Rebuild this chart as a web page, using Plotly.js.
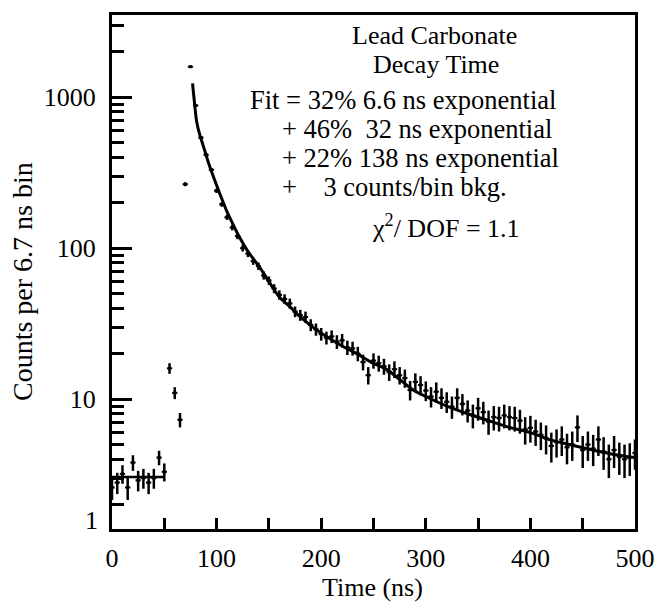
<!DOCTYPE html>
<html>
<head>
<meta charset="utf-8">
<script src="https://cdn.plot.ly/plotly-3.0.1.min.js"></script>
<style>html,body{margin:0;padding:0;background:#fff;}#chart{width:658px;height:602px;}</style>
</head>
<body>
<div id="chart"></div>
<script>
// ---- data ----
const timeNs = [0,5,10,15,20,25,30,35,40,45,50,55,60,65,70,75,80,85,90,95,100,105,110,115,120,125,130,135,140,145,150,155,160,165,170,175,180,185,190,195,200,205,210,215,220,225,230,235,240,245,250,255,260,265,270,275,280,285,290,295,300,305,310,315,320,325,330,335,340,345,350,355,360,365,370,375,380,385,390,395,400,405,410,415,420,425,430,435,440,445,450,455,460,465,470,475,480,485,490,495,500];
const counts = [2.6,2.8,3.2,2.6,3.8,2.9,3.0,2.8,3.0,4.1,3.3,16,11,7.3,265,1590,880,540,415,330,240,195,160,137,120,100,92,82,76,66,61,54,49,46,43,38,36,35,31,29,27,25.5,26,24,24.5,22,21.7,20,17.6,14.4,18,17.3,16.5,15.1,15.8,14.4,13.8,11.5,13,12.4,11.4,10.4,11.2,10.2,9.6,8.9,10.2,9.3,8.4,7.8,8.7,8.2,7.1,7.6,7.5,7.8,7.6,7.5,7.2,6.3,6.45,6.1,5.8,5.5,4.9,5.2,5.4,4.8,5.0,6.5,4.6,5.0,4.7,5.4,4.5,4.0,4.6,4.15,4.0,4.1,4.4];
const countErr = [0.45,0.45,0.45,0.45,0.45,0.45,0.45,0.45,0.45,0.45,0.45,1.3,1.0,0.8,8,16,15,12,10,9,8,7,6.3,5.9,5.5,5,4.8,4.5,4.4,4.1,3.9,3.7,3.5,3.4,3.3,3.1,3.0,3.0,2.8,2.7,2.6,2.5,2.5,2.5,2.5,2.4,2.3,2.2,2.1,1.9,2.1,2.1,2.0,1.9,2.0,1.9,1.9,1.7,1.8,1.8,1.7,1.6,1.7,1.6,1.5,1.5,1.6,1.5,1.4,1.4,1.5,1.4,1.3,1.4,1.4,1.4,1.4,1.4,1.3,1.3,1.3,1.2,1.2,1.2,1.1,1.1,1.2,1.1,1.1,1.3,1.1,1.1,1.1,1.2,1.1,1.0,1.1,1.0,1.0,1.0,1.0];
const binHalfWidth = 2.5;

const bkgFitX = [0, 50];
const bkgFitY = [3.05, 3.05];
const fitX = [77,79,81,84,86,89,92,96,100,105,110,115,120,130,141,150,160,170,180,192,205,220,234,248,262,275,288,304,320,340,360,380,400,420,440,466,480,500];
const fitY = [1233,900,685,560,506,435,372,310,261,212,174,147,125,95,75,60,47.5,41,35,30,26,22.5,20,17.5,15.8,13.5,11.5,10.1,9.0,8.0,7.2,6.5,6.0,5.35,4.95,4.5,4.3,4.1];

const xTicks = [0,100,200,300,400,500];
const xMinorTicks = [50,150,250,350,450];
const yTicks = [10,100,1000];
const yTickText = ['10','100','1000'];
const yMinorTicks = [2,3,4,5,6,7,8,9,20,30,40,50,60,70,80,90,200,300,400,500,600,700,800,900,2000,3000];

// ---- layout geometry ----
const W = 658, H = 602;
const M = {l:112, r:23, t:15, b:73};
const PW = W - M.l - M.r, PH = H - M.t - M.b;
const px = x => (x - M.l) / PW;
const py = y => (H - M.b - y) / PH;

const FONT = 'Liberation Serif';
const black = '#000';

const traces = [
  {x: bkgFitX, y: bkgFitY, mode: 'lines', line: {color: black, width: 2.5}, hoverinfo: 'skip', showlegend: false},
  {x: fitX, y: fitY, mode: 'lines', line: {color: black, width: 3, shape: 'spline'}, hoverinfo: 'skip', showlegend: false},
  {x: timeNs, y: counts, mode: 'markers', showlegend: false,
   marker: {color: black, size: 3, symbol: 'square'},
   error_y: {type: 'data', array: countErr, visible: true, color: black, thickness: 2.5, width: 0},
   error_x: {type: 'constant', value: binHalfWidth, visible: true, color: black, thickness: 2, width: 0}}
];

const ann = (text, x, y, xa, size, opts) => Object.assign({
  text: text, xref: 'paper', yref: 'paper', x: px(x), y: py(y), xanchor: xa, yanchor: 'middle',
  showarrow: false, font: {family: FONT, size: size, color: black}
}, opts || {});

const NB = '\u00A0';
const layout = {
  width: W, height: H,
  margin: M,
  paper_bgcolor: '#fff', plot_bgcolor: '#fff',
  showlegend: false,
  font: {family: FONT, size: 26, color: black},
  xaxis: {
    range: [0, 500], tickmode: 'array', tickvals: xTicks,
    ticks: 'inside', ticklen: 11, tickwidth: 3, tickcolor: black,
    minor: {tickmode: 'array', tickvals: xMinorTicks, ticks: 'inside', ticklen: 11, tickwidth: 3, tickcolor: black, showgrid: false},
    showline: true, linewidth: 3, linecolor: black, mirror: true,
    showgrid: false, zeroline: false, ticklabelstandoff: 4,
    tickfont: {family: FONT, size: 26, color: black}
  },
  yaxis: {
    type: 'log', range: [Math.log10(1.38), Math.log10(3500)],
    tickmode: 'array', tickvals: yTicks, ticktext: yTickText,
    ticks: 'inside', ticklen: 20, tickwidth: 3, tickcolor: black,
    minor: {tickmode: 'array', tickvals: yMinorTicks, ticks: 'inside', ticklen: 12, tickwidth: 3, tickcolor: black, showgrid: false},
    showline: true, linewidth: 3, linecolor: black, mirror: true,
    showgrid: false, zeroline: false, ticklabelstandoff: 8,
    tickfont: {family: FONT, size: 26, color: black}
  },
  annotations: [
    ann('1', 100, 520, 'right', 26),
    ann('Time (ns)', 372, 587, 'center', 26),
    ann('Counts per 6.7 ns bin', 23, 282, 'center', 28, {textangle: -90}),
    ann('Lead Carbonate', 434, 36, 'center', 26),
    ann('Decay Time', 436, 64, 'center', 26),
    ann('Fit = 32% 6.6 ns exponential', 248, 100, 'left', 26.5),
    ann('+ 46%' + NB + NB + '32 ns exponential', 280, 129, 'left', 26.5),
    ann('+ 22% 138 ns exponential', 280, 158, 'left', 26.5),
    ann('+' + NB + NB + NB + NB + '3 counts/bin bkg.', 280, 187, 'left', 26.5),
    ann('\u03C7<sup>2</sup>/ DOF = 1.1', 370, 226, 'left', 26)
  ]
};

Plotly.newPlot('chart', traces, layout, {staticPlot: true, displayModeBar: false});
</script>
</body>
</html>
